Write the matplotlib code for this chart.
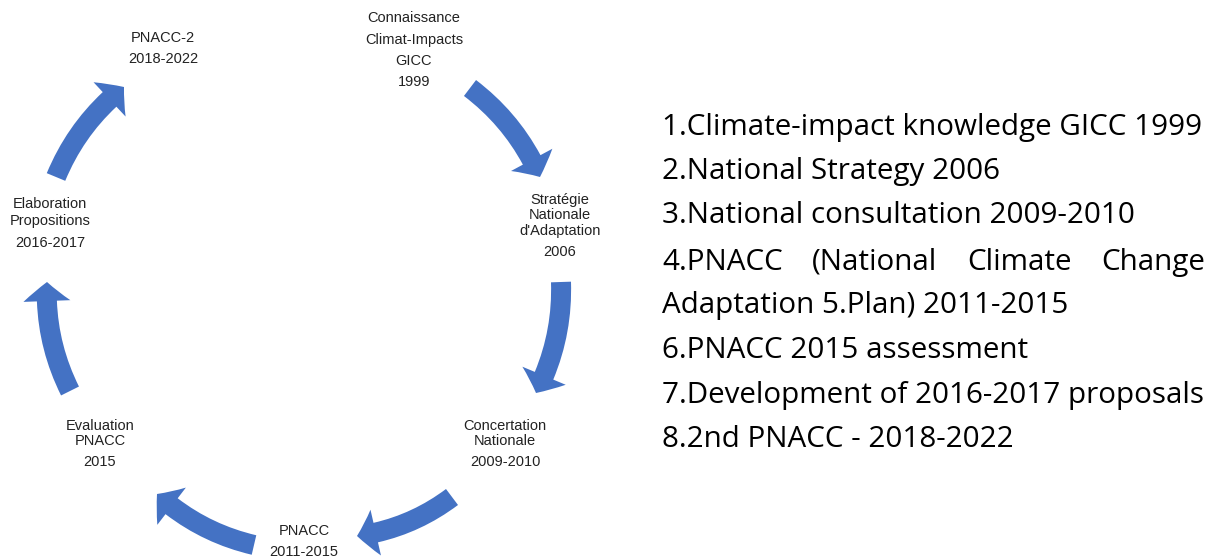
import matplotlib
matplotlib.use("Agg")
import matplotlib.pyplot as plt
from matplotlib.patches import FancyArrowPatch

# cycle labels (French), one entry per stage, line by line
stage_lines = [
    ["Connaissance", "Climat-Impacts", "GICC", "1999"],
    ["Stratégie", "Nationale", "d'Adaptation", "2006"],
    ["Concertation", "Nationale", "2009-2010"],
    ["PNACC", "2011-2015"],
    ["Evaluation", "PNACC", "2015"],
    ["Elaboration", "Propositions", "2016-2017"],
    ["PNACC-2", "2018-2022"],
]
# label anchor (pixel) and line centre rows
stage_x = [414, 560, 505, 304, 100, 50, 163]
stage_y = [
    [18, 40, 61, 82],
    [200, 215, 231, 252],
    [426, 441, 462],
    [531, 552],
    [426, 441, 462],
    [204, 221, 243],
    [38, 59],
]

# arrows: tail centre -> tip (pixels)
arrow_tail = [(470, 88), (561, 282), (452, 497), (254, 545), (70, 391), (56, 177)]
arrow_tip = [(540, 177), (536, 393), (357, 536), (157, 494), (47, 282), (124, 87)]

# english list on the right
list_lines = [
    "1.Climate-impact knowledge GICC 1999",
    "2.National Strategy 2006",
    "3.National consultation 2009-2010",
    "4.PNACC (National Climate Change",
    "Adaptation 5.Plan) 2011-2015",
    "6.PNACC 2015 assessment",
    "7.Development of 2016-2017 proposals",
    "8.2nd PNACC - 2018-2022",
]
list_y = [135, 179, 223, 270, 313, 358, 403, 447]

BLUE = "#4472C4"
W, H = 1222, 560

fig = plt.figure(figsize=(W / 100, H / 100), dpi=100)
ax = fig.add_axes([0, 0, 1, 1])
ax.set_xlim(0, W)
ax.set_ylim(H, 0)
ax.axis("off")

# curved block arrows
px = 0.72  # points per pixel at 100 dpi
style = "simple,head_length=%.1f,head_width=%.1f,tail_width=%.1f" % (19 * px, 47 * px, 20 * px)
for tail, tip in zip(arrow_tail, arrow_tip):
    a = FancyArrowPatch(tail, tip, connectionstyle="arc3,rad=-0.13",
                        arrowstyle=style, mutation_scale=1,
                        shrinkA=0, shrinkB=0, color=BLUE, lw=0)
    ax.add_patch(a)

# stage labels
for lines, x, ys in zip(stage_lines, stage_x, stage_y):
    for txt, y in zip(lines, ys):
        ax.text(x, y, txt, ha="center", va="center", fontsize=10.5,
                family="Liberation Sans", color="#222222")

# right-hand list, sized to the reference width
fig.canvas.draw()
r = fig.canvas.get_renderer()
x0, x1 = 662, 1205
probe = ax.text(0, 0, list_lines[0], fontsize=20, family="Open Sans")
w20 = probe.get_window_extent(r).width
probe.remove()
fs = 20 * 541 / w20

for i, (txt, y) in enumerate(zip(list_lines, list_y)):
    if i == 3:
        # justified line
        words = txt.split(" ")
        objs = [ax.text(0, y, w, fontsize=fs, family="Open Sans", va="baseline")
                for w in words]
        widths = [o.get_window_extent(r).width for o in objs]
        gap = (x1 - x0 - sum(widths)) / (len(words) - 1)
        x = x0
        for o, w in zip(objs, widths):
            o.set_x(x)
            x += w + gap
    else:
        ax.text(x0, y, txt, fontsize=fs, family="Open Sans", va="baseline")

fig.savefig("out.png", dpi=100)
